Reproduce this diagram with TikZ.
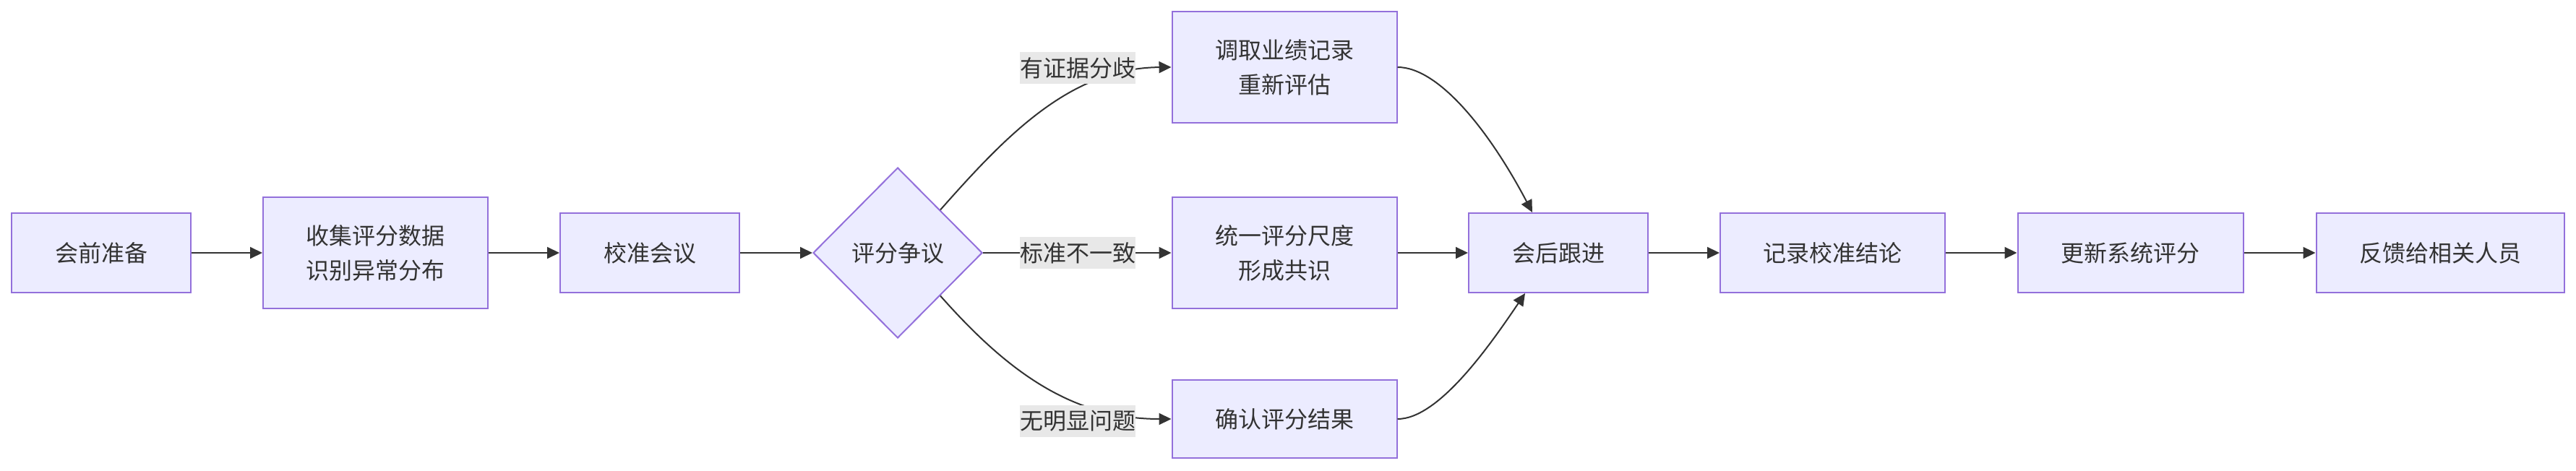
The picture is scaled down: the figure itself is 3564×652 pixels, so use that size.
\documentclass[tikz,border=0pt]{standalone}
\usepackage{fontspec}
\setmainfont{Noto Sans CJK SC}
\usepackage{xcolor}
\usepackage{tikz}
\usetikzlibrary{arrows.meta,shapes.geometric}
\definecolor{cFill}{HTML}{ECECFF}
\definecolor{cRim}{HTML}{9370DB}
\definecolor{ink}{HTML}{333333}
\definecolor{cLbl}{HTML}{E8E8E8}
\tikzset{
  box/.style={draw=cRim,fill=cFill,line width=2pt,text=ink,align=center,inner sep=0pt,
    font=\fontsize{32}{48}\selectfont},
  decide/.style={diamond,aspect=1,draw=cRim,fill=cFill,line width=2pt,text=ink,inner sep=0pt,
    minimum width=234pt,minimum height=236pt,font=\fontsize{32}{48}\selectfont},
  lbl/.style={fill=cLbl,text=ink,inner xsep=0pt,inner ysep=7pt,font=\fontsize{32}{40}\selectfont},
  flow/.style={draw=ink,line width=2pt,-{Triangle[length=17pt,width=16pt]}}}

\begin{document}
\begin{tikzpicture}[x=1pt,y=-1pt]
  \useasboundingbox (0,0) rectangle (3564,652);
  % before the meeting
  \node[box,minimum width=248pt,minimum height=110pt] (prep) at (140,350) {会前准备};
  \node[box,minimum width=311pt,minimum height=154pt] (collect) at (519.5,350) {收集评分数据\\识别异常分布};
  \node[box,minimum width=248pt,minimum height=110pt] (meet) at (899,350) {校准会议};
  \node[decide] (dispute) at (1242,350) {评分争议};
  % three outcomes
  \node[box,minimum width=311pt,minimum height=154pt] (recheck) at (1777,93) {调取业绩记录\\重新评估};
  \node[box,minimum width=311pt,minimum height=154pt] (unify) at (1777,350) {统一评分尺度\\形成共识};
  \node[box,minimum width=311pt,minimum height=108pt] (confirm) at (1777,580) {确认评分结果};
  % after the meeting
  \node[box,minimum width=248pt,minimum height=110pt] (follow) at (2156,350) {会后跟进};
  \node[box,minimum width=311pt,minimum height=110pt] (record) at (2535.5,350) {记录校准结论};
  \node[box,minimum width=312pt,minimum height=110pt] (update) at (2947.5,350) {更新系统评分};
  \node[box,minimum width=343pt,minimum height=110pt] (notify) at (3376,350) {反馈给相关人员};

  \draw[flow] (prep) -- (collect);
  \draw[flow] (collect) -- (meet);
  \draw[flow] (meet) -- (dispute);
  \draw[flow] (dispute.north east) .. controls (1390,190) and (1480,94) .. (recheck.west);
  \draw[flow] (dispute) -- (unify);
  \draw[flow] (dispute.south east) .. controls (1390,510) and (1480,580) .. (confirm.west);
  \draw[flow] (recheck.east) .. controls (1990,93) and (2060,180) .. ([xshift=-36pt]follow.north);
  \draw[flow] (unify) -- (follow);
  \draw[flow] (confirm.east) .. controls (1990,580) and (2060,480) .. ([xshift=-46pt]follow.south);
  \draw[flow] (follow) -- (record);
  \draw[flow] (record) -- (update);
  \draw[flow] (update) -- (notify);

  % edge labels
  \node[lbl] (yes) at (1491,94) {有证据分歧};
  \node[lbl] (std) at (1491,350) {标准不一致};
  \node[lbl] (none) at (1491,583) {无明显问题};
\end{tikzpicture}
\end{document}
